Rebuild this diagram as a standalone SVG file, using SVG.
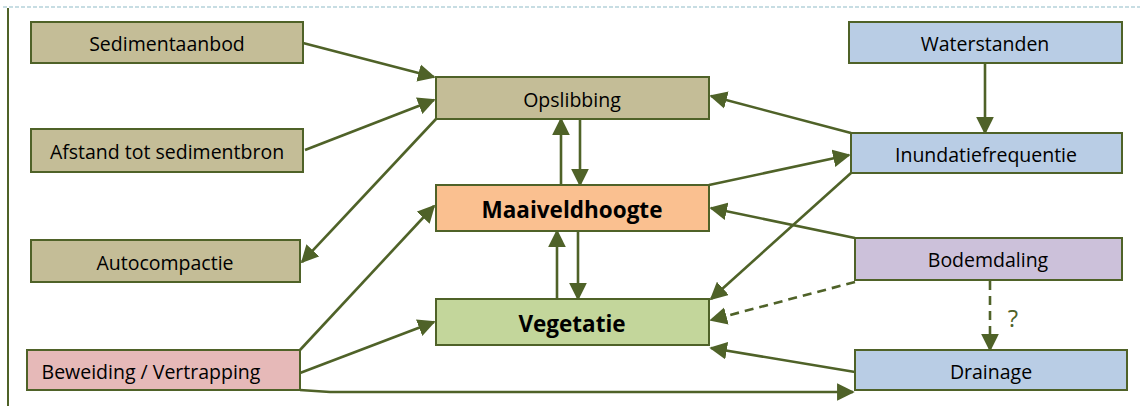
<svg xmlns="http://www.w3.org/2000/svg" width="1140" height="406" viewBox="0 0 1140 406">
<style>
.n rect{stroke:#4f6228;stroke-width:2}
.n text{font-family:"Open Sans","Noto Sans","Liberation Sans",sans-serif;font-size:19.5px;fill:#000;text-anchor:middle;dominant-baseline:central}
.n text.b{font-weight:bold;font-size:22.5px}
.c line,.c polyline{stroke:#4f6228;stroke-width:2.6;fill:none;marker-end:url(#ah)}
.c .d{stroke-dasharray:9,6}
.tan{fill:#c4bd97}.blue{fill:#b9cde5}
</style>
<defs>
<marker id="ah" viewBox="0 0 10 10" refX="9" refY="5" markerWidth="6.8" markerHeight="7" markerUnits="strokeWidth" orient="auto">
<path d="M0,0 L10,5 L0,10 z" fill="#4f6228"/>
</marker>
</defs>
<rect width="1140" height="406" fill="#fff"/>
<line x1="3" y1="7" x2="1140" y2="7" stroke="#8fbcc8" stroke-width="1.2" stroke-dasharray="4,2"/>
<line x1="8" y1="8" x2="8" y2="406" stroke="#4f6228" stroke-width="2"/>
<g class="c">
<line x1="303" y1="43" x2="434" y2="77"/>
<line x1="305" y1="150" x2="434" y2="100"/>
<line x1="436" y1="119" x2="302" y2="262"/>
<line x1="561" y1="185" x2="561" y2="119"/>
<line x1="580" y1="119" x2="580" y2="185"/>
<line x1="557" y1="299" x2="557" y2="231"/>
<line x1="578" y1="231" x2="578" y2="299"/>
<line x1="851" y1="133" x2="711" y2="96"/>
<line x1="709" y1="185" x2="849" y2="155"/>
<line x1="851" y1="173" x2="711" y2="299"/>
<line x1="855" y1="238" x2="711" y2="208"/>
<line class="d" x1="855" y1="282" x2="711" y2="320"/>
<line class="d" x1="990" y1="281" x2="990" y2="350"/>
<line x1="855" y1="372" x2="711" y2="348"/>
<line x1="300" y1="350" x2="434" y2="206"/>
<line x1="300" y1="373" x2="434" y2="322"/>
<polyline points="300,390 330,392 853,392"/>
<line x1="985" y1="64" x2="985" y2="133"/>
</g>
<text x="1013" y="317" font-family="'Open Sans','Noto Sans',sans-serif" font-size="24" fill="#4f6228" text-anchor="middle" dominant-baseline="central">?</text>
<g id="sedimentaanbod" class="n"><rect class="tan" x="31" y="22" width="272" height="41"/><text x="167" y="43">Sedimentaanbod</text></g>
<g id="afstand" class="n"><rect class="tan" x="31" y="129" width="272" height="43"/><text x="167" y="151">Afstand tot sedimentbron</text></g>
<g id="autocompactie" class="n"><rect class="tan" x="31" y="240" width="269" height="42"/><text x="165" y="262">Autocompactie</text></g>
<g id="beweiding" class="n"><rect x="27" y="350" width="273" height="40" fill="#e6b9b8"/><text x="151" y="371">Beweiding / Vertrapping</text></g>
<g id="opslibbing" class="n"><rect class="tan" x="436" y="77" width="273" height="42"/><text x="572" y="99">Opslibbing</text></g>
<g id="maaiveldhoogte" class="n"><rect x="436" y="185" width="273" height="46" fill="#fac090"/><text class="b" x="572" y="209">Maaiveldhoogte</text></g>
<g id="vegetatie" class="n"><rect x="436" y="299" width="273" height="46" fill="#c3d69b"/><text class="b" x="572" y="323">Vegetatie</text></g>
<g id="waterstanden" class="n"><rect class="blue" x="849" y="22" width="273" height="41"/><text x="985" y="43">Waterstanden</text></g>
<g id="inundatiefrequentie" class="n"><rect class="blue" x="851" y="133" width="271" height="40"/><text x="986" y="154">Inundatiefrequentie</text></g>
<g id="bodemdaling" class="n"><rect x="855" y="238" width="267" height="42" fill="#ccc1da"/><text x="988" y="259">Bodemdaling</text></g>
<g id="drainage" class="n"><rect class="blue" x="855" y="350" width="272" height="40"/><text x="991" y="371">Drainage</text></g>
</svg>
